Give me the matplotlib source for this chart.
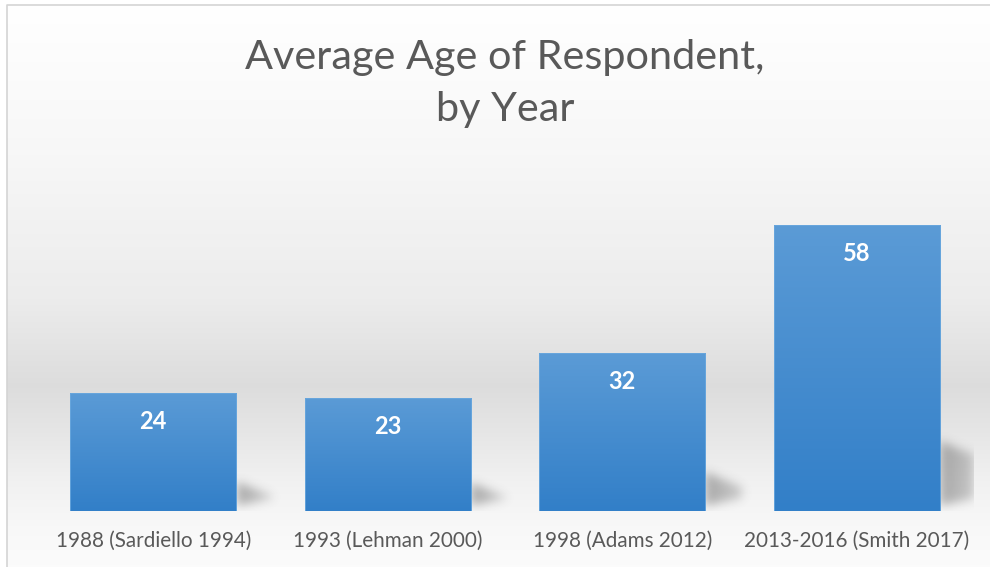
import numpy as np
import matplotlib
matplotlib.use('Agg')
import matplotlib.pyplot as plt
from matplotlib.colors import LinearSegmentedColormap

#Chart data
categories = ['1988 (Sardiello 1994)', '1993 (Lehman 2000)', '1998 (Adams 2012)', '2013-2016 (Smith 2017)']
ages = [24, 23, 32, 58]
title = 'Average Age of Respondent,\nby Year'

W, H, DPI = 990, 567, 100
plt.rcParams['font.family'] = ['Lato', 'DejaVu Sans']

fig = plt.figure(figsize=(W/DPI, H/DPI), dpi=DPI, facecolor='white')

#Background panel with a soft grey band behind the bars (pixel coordinates)
bg = fig.add_axes([0, 0, 1, 1])
bg.set_xlim(0, W)
bg.set_ylim(H, 0)
bg.axis('off')
stops_y = [5, 150, 300, 385, 430, 480, 530, 567]
stops_v = [1.0, 0.97, 0.925, 0.865, 0.9, 0.945, 0.975, 0.985]
ys = np.arange(5, H)
grey = np.interp(ys, stops_y, stops_v)
bg_img = np.repeat(np.repeat(grey[:, None], 8, axis=1)[..., None], 3, axis=2)
bg.imshow(bg_img, extent=(7, W, H, 5), aspect='auto', interpolation='nearest')
bg.plot([7, 7, W], [H, 5, 5], color='#d4d4d4', lw=1.2)

#Plot area
x0_px, x1_px = 36, 974
base_px, top_px = 511, 166
ax = fig.add_axes([x0_px/W, (H-base_px)/H, (x1_px-x0_px)/W, (base_px-top_px)/H])
ax.patch.set_alpha(0)
ymax = 70
ax.set_xlim(-0.5, len(ages)-0.5)
ax.set_ylim(0, ymax)
for s in ax.spines.values():
    s.set_visible(False)
ax.set_yticks([])
ax.set_xticks(range(len(categories)))
ax.set_xticklabels(categories, fontsize=14.9, color='#595959')
ax.tick_params(axis='x', length=0, pad=14)

bar_w = 0.71
x = np.arange(len(ages))

#Blurred drop shadows to the lower right of each bar
nx, ny = x1_px-x0_px, base_px-top_px
gx = np.linspace(-0.5, len(ages)-0.5, nx)
gy = np.linspace(0, ymax, ny)
X, Y = np.meshgrid(gx, gy)
shadow = np.zeros_like(X)
sw = 0.155
for xi, h in zip(x, ages):
    xr = xi + bar_w/2
    t = (X - xr)/sw
    top = 0.245*h - 3.0*t
    inside = (t >= 0) & (t <= 1) & (Y <= top) & (Y >= 1.0 + 1.5*t)
    shadow[inside] = np.maximum(shadow[inside], 1 - 0.45*t[inside])

def blur(a, sigma, axis):
    r = int(3*sigma)
    k = np.exp(-0.5*(np.arange(-r, r+1)/sigma)**2)
    k /= k.sum()
    return np.apply_along_axis(lambda v: np.convolve(v, k, mode='same'), axis, a)

shadow = blur(blur(shadow, 5, 1), 5, 0)
rgba = np.zeros(shadow.shape + (4,))
rgba[..., :3] = 0.25
rgba[..., 3] = shadow*0.42
ax.imshow(rgba, extent=(-0.5, len(ages)-0.5, 0, ymax), origin='lower',
          aspect='auto', zorder=1)

#Bars with a vertical blue gradient
bars = ax.bar(x, ages, width=bar_w, color='none', edgecolor='#6aa8de', lw=0.6, zorder=3)
cmap = LinearSegmentedColormap.from_list('bar', ['#327fc8', '#5b9bd6'])
grad = np.linspace(0, 1, 256)[:, None]
for b in bars:
    bx, bw, bh = b.get_x(), b.get_width(), b.get_height()
    im = ax.imshow(grad, cmap=cmap, extent=(bx, bx+bw, 0, bh), origin='lower',
                   aspect='auto', zorder=2)
    im.set_clip_path(b)

#Value labels inside the top of each bar
for xi, v in zip(x, ages):
    ax.text(xi, v - 5.8, str(v), ha='center', va='center', color='white',
            fontsize=17, fontweight='bold', zorder=4)

ax.set_xlim(-0.5, len(ages)-0.5)
ax.set_ylim(0, ymax)

fig.text(505/W, 1 - 84/H, title, ha='center', va='center', fontsize=29.8,
         color='#595959', linespacing=1.5)

fig.savefig('out.png', dpi=DPI, facecolor='white')
